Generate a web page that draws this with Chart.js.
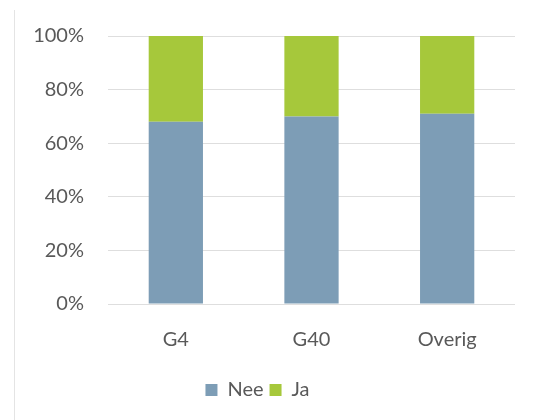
<!DOCTYPE html>
<html>
<head>
<meta charset="utf-8">
<script src="https://cdn.jsdelivr.net/npm/chart.js@4/dist/chart.umd.min.js"></script>
<style>
  html, body { margin: 0; padding: 0; background: #fff; }
  #wrap { position: relative; width: 535px; height: 420px; }
  #frame { position: absolute; left: 14px; top: 10px; width: 540px; height: 420px; border-left: 1px solid #e4e4e4; }
</style>
</head>
<body>
<div id="wrap">
  <div id="frame"></div>
  <canvas id="chart" width="535" height="420"></canvas>
</div>
<script>
// categorieen en aandelen (in %)
const categories = ['G4', 'G40', 'Overig'];
const neeValues = [68, 70, 71];
const jaValues = [32, 30, 29];
const yTicks = [0, 20, 40, 60, 80, 100];

const fontFam = 'Lato, "Open Sans", sans-serif';

new Chart(document.getElementById('chart').getContext('2d'), {
    type: 'bar',
    data: {
        labels: categories,
        datasets: [
            { label: 'Nee', data: neeValues, backgroundColor: '#7d9db6', barPercentage: 0.4, categoryPercentage: 1 },
            { label: 'Ja', data: jaValues, backgroundColor: '#a6c83b', barPercentage: 0.4, categoryPercentage: 1 }
        ]
    },
    options: {
        responsive: false,
        animation: false,
        layout: { padding: { left: 0, right: 20, top: 29, bottom: 10 } },
        plugins: {
            title: { display: false },
            tooltip: { enabled: false },
            legend: {
                position: 'bottom',
                labels: {
                    boxWidth: 12, boxHeight: 12, padding: 6,
                    color: '#595959',
                    font: { family: fontFam, size: 20 }
                }
            }
        },
        scales: {
            x: {
                stacked: true,
                grid: { display: false },
                border: { display: false },
                afterFit: s => { s.height += 6; },
                ticks: { color: '#595959', padding: 16, font: { family: fontFam, size: 20 } }
            },
            y: {
                stacked: true,
                min: 0, max: 100,
                afterBuildTicks: s => { s.ticks = yTicks.map(v => ({ value: v })); },
                afterFit: s => { s.width = 108; },
                grid: { color: '#dedede', drawTicks: false },
                border: { display: false },
                ticks: {
                    color: '#595959', padding: 24,
                    font: { family: fontFam, size: 20 },
                    callback: v => v + '%'
                }
            }
        }
    }
});
</script>
</body>
</html>
